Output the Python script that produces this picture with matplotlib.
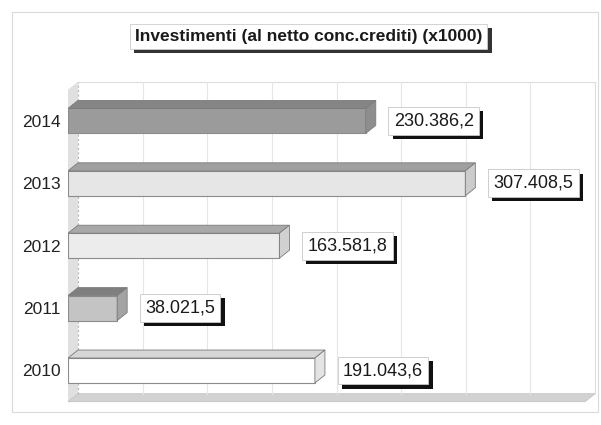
import matplotlib
matplotlib.use("Agg")
from matplotlib import pyplot as plt
from matplotlib import patheffects as pe
from matplotlib.patches import Polygon, Rectangle

years = ["2010", "2011", "2012", "2013", "2014"]
values = [191043.6, 38021.5, 163581.8, 307408.5, 230386.2]
front_c = ["#ffffff", "#c4c4c4", "#ececec", "#e6e6e6", "#9b9b9b"]
top_c = ["#d6d6d6", "#7f7f7f", "#a8a8a8", "#a0a0a0", "#858585"]
side_c = ["#e4e4e4", "#a3a3a3", "#d0d0d0", "#cccccc", "#8e8e8e"]
title = "Investimenti (al netto conc.crediti) (x1000)"
x_max = 400000
grid_step = 50000

W, H = 601, 425
plt.rcParams["font.family"] = ["Liberation Sans", "DejaVu Sans"]
fig = plt.figure(figsize=(W / 100, H / 100), dpi=100)

# pixel geometry of the plot box
x0_px, xf_px = 68, 585          # front plane: 0 .. x_max
dx_px, dy_px = 10, 8            # 3d depth offset
cat_px = 62.4                   # pixels per category
bottom_px = 401.7               # front floor edge

px_per_x = (xf_px - x0_px) / x_max
dx = dx_px / px_per_x
dy = dy_px / cat_px
ylo, yhi = -0.5, 4.5 + dy
ax_w = xf_px - x0_px + dx_px
ax_h = (yhi - ylo) * cat_px
ax = fig.add_axes([x0_px / W, (H - bottom_px) / H, ax_w / W, ax_h / H])
ax.set_xlim(0, x_max + dx)
ax.set_ylim(ylo, yhi)
for s in ax.spines.values():
    s.set_visible(False)
ax.set_xticks([])
ax.set_yticks(range(len(years)))
ax.set_yticklabels(years, fontsize=12.5, color="#222222")
ax.tick_params(axis="y", length=0, pad=5)

# outer frame
fig.patches.append(Rectangle((12 / W, 13 / H), 586 / W, 400 / H, transform=fig.transFigure,
                             fill=False, ec="#dadada", lw=0.8))

# walls + floor
ax.add_patch(Polygon([(0, -0.5), (dx, -0.5 + dy), (dx, 4.5 + dy), (0, 4.5)],
                     fc="#e0e0e0", ec="none", zorder=1))
ax.add_patch(Polygon([(0, -0.5), (x_max, -0.5), (x_max + dx, -0.5 + dy), (dx, -0.5 + dy)],
                     fc="#d2d2d2", ec="#c4c4c4", lw=0.6, zorder=1, clip_on=False))
ax.plot([dx, x_max + dx, x_max + dx], [4.5 + dy, 4.5 + dy, -0.5 + dy],
        color="#dddddd", lw=0.8, zorder=1, clip_on=False)
ax.plot([dx, dx], [-0.5 + dy, 4.5 + dy], color="#b8b8b8", lw=0.8, ls=(0, (2, 2)), zorder=1)
for k in range(1, x_max // grid_step):
    ax.plot([k * grid_step + dx] * 2, [-0.5 + dy, 4.5 + dy], color="#e6e6e6", lw=0.8, zorder=1)

bh = 0.4
for i, (v, fc, tc, sc) in enumerate(zip(values, front_c, top_c, side_c)):
    b, t = i - bh / 2, i + bh / 2
    ax.barh(i, v, height=bh, color=fc, edgecolor="#8c8c8c", lw=0.8, zorder=3)
    ax.add_patch(Polygon([(0, t), (v, t), (v + dx, t + dy), (dx, t + dy)],
                         fc=tc, ec="#7a7a7a", lw=0.6, zorder=3))
    ax.add_patch(Polygon([(v, b), (v, t), (v + dx, t + dy), (v + dx, b + dy)],
                         fc=sc, ec="#7a7a7a", lw=0.6, zorder=3))
    lab = f"{v:,.1f}".replace(",", "X").replace(".", ",").replace("X", ".")
    txt = ax.annotate(lab, xy=(v, i), xytext=(28, 0), textcoords="offset pixels",
                      ha="left", va="center", fontsize=13, color="#1a1a1a", zorder=5,
                      bbox=dict(boxstyle="square,pad=0.3", fc="white", ec="#c8c8c8", lw=0.6))
    txt.get_bbox_patch().set_path_effects(
        [pe.SimplePatchShadow(offset=(3, -3), shadow_rgbFace="#111111", alpha=1), pe.Normal()])

t = fig.text(308.5 / W, 1 - 36.5 / H, title, ha="center", va="center",
             fontsize=12.5, fontweight="bold", color="#1a1a1a",
             bbox=dict(boxstyle="square,pad=0.3", fc="white", ec="#cccccc", lw=0.6))
t.get_bbox_patch().set_path_effects(
    [pe.SimplePatchShadow(offset=(3, -3), shadow_rgbFace="#333333", alpha=1), pe.Normal()])

fig.savefig("out.png", dpi=100)
